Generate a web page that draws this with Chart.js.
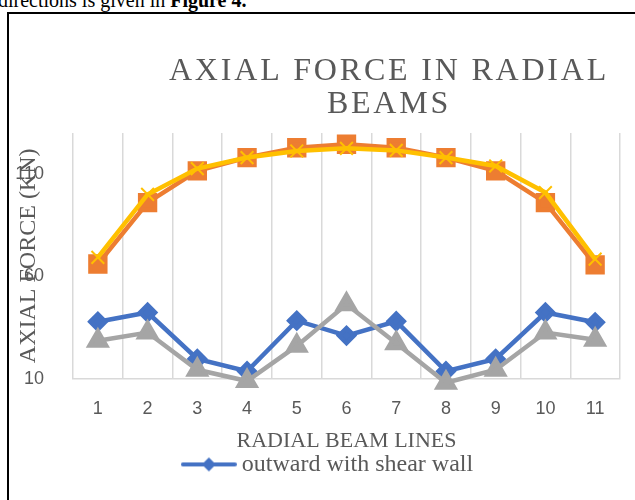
<!DOCTYPE html>
<html>
<head>
<meta charset="utf-8">
<script src="https://cdn.jsdelivr.net/npm/chart.js@4.4.1/dist/chart.umd.min.js"></script>
<style>
html,body{margin:0;padding:0;background:#fff;overflow:hidden}
#page{position:relative;width:635px;height:500px;overflow:hidden;background:#fff}
#lead{position:absolute;left:-2px;top:-10px;font:20px "Liberation Serif",serif;line-height:20px;color:#000;white-space:nowrap}
#frame{position:absolute;left:7px;top:12px;width:700px;height:600px;border:2px solid #000}
#chart{position:absolute;left:0;top:0}
</style>
</head>
<body>
<div id="page">
  <div id="lead">directions is given in <b>Figure 4.</b></div>
  <div id="frame"></div>
  <canvas id="chart" width="635" height="500"></canvas>
</div>
<script>
// radial beam lines and axial forces (kN)
const beamLines = ["1","2","3","4","5","6","7","8","9","10","11"];
const outwardWall   = [37.8, 42.3, 19.6, 13.6, 38.3, 31.0, 38.0, 13.6, 19.6, 42.3, 37.5];
const inwardWall    = [66.0, 96.0, 111.5, 118.0, 122.8, 124.5, 122.8, 118.0, 111.5, 96.0, 65.6];
const outwardNoWall = [28.5, 32.5, 14.3, 8.8, 26.0, 46.3, 27.3, 8.0, 14.3, 32.5, 29.0];
const inwardNoWall  = [69.2, 100.0, 112.6, 118.0, 121.2, 122.5, 121.5, 118.0, 113.9, 100.9, 68.4];
const yTicks = [10, 60, 110];
const titleLines = ["AXIAL FORCE IN RADIAL", "BEAMS"];
const yTitle = "AXIAL FORCE (KN)";
const xTitle = "RADIAL BEAM LINES";

const $ = id => document.getElementById(id);
const grey = "#595959", serif = "'Liberation Serif', 'Times New Roman', serif";
const sans = "'Liberation Sans', Arial, sans-serif";

// legend icon: line with a diamond marker, like the Excel legend
const icon = document.createElement("canvas");
icon.width = 56; icon.height = 16;
(() => {
  const g = icon.getContext("2d");
  g.strokeStyle = "#4472C4"; g.lineWidth = 4; g.lineCap = "round";
  g.beginPath(); g.moveTo(2, 8); g.lineTo(54, 8); g.stroke();
  g.fillStyle = "#4472C4";
  g.beginPath(); g.moveTo(28, 1); g.lineTo(35, 8); g.lineTo(28, 15); g.lineTo(21, 8); g.closePath(); g.fill();
})();

const texts = {
  id: "texts",
  afterLayout(c) { c.legend.left += 19; c.legend.right += 19; },
  afterDraw(c) {
    const ctx = c.ctx, a = c.chartArea;
    ctx.save();
    ctx.fillStyle = grey;
    ctx.textAlign = "center"; ctx.textBaseline = "middle";
    ctx.font = "32px " + serif;
    ctx.letterSpacing = "2.8px";
    titleLines.forEach((t, i) => ctx.fillText(t, 389, 72 + i * 33));
    ctx.letterSpacing = "0px";
    ctx.translate(29, (a.top + a.bottom) / 2);
    ctx.rotate(-Math.PI / 2);
    ctx.font = "24px " + serif;
    ctx.fillText(yTitle, 0, 0);
    ctx.restore();
  }
};

const ds = (label, data, color, style, radius, extra) => Object.assign({
  label, data, borderColor: color, backgroundColor: color,
  pointBackgroundColor: color, pointBorderColor: color,
  pointStyle: style, pointRadius: radius, pointHoverRadius: radius,
  borderWidth: 4.5, tension: 0, clip: false
}, extra || {});

new Chart($("chart"), {
  type: "line",
  data: {
    labels: beamLines,
    datasets: [
      ds("outward with shear wall", outwardWall, "#4472C4", "rectRot", 7.5, {order: 4}),
      ds("inward with shear wall", inwardWall, "#ED7D31", "rect", 10.5, {order: 3}),
      ds("outward without shear wall", outwardNoWall, "#A5A5A5", "triangle", 9.5, {order: 2}),
      ds("inward without shear wall", inwardNoWall, "#FFC000", "crossRot", 9, {order: 1, pointBorderWidth: 2})
    ]
  },
  options: {
    responsive: false, animation: false,
    layout: {padding: {left: 0, right: 12, top: 133, bottom: 13.6}},
    plugins: {
      legend: {
        position: "bottom",
        labels: {
          filter: it => it.datasetIndex === 0,
          usePointStyle: true, pointStyle: icon, pointStyleWidth: 42, boxHeight: 16,
          color: grey, font: {family: serif, size: 24}, padding: 0
        }
      },
      tooltip: {enabled: false},
      title: {display: false}
    },
    scales: {
      x: {
        offset: true,
        grid: {offset: true, color: "#d9d9d9", lineWidth: 1.5, drawTicks: false},
        border: {color: "#d9d9d9", width: 1.5},
        ticks: {color: grey, font: {family: sans, size: 18}, padding: 20},
        title: {display: true, text: xTitle, color: grey, font: {family: serif, size: 22}, padding: {top: -12.2, bottom: -2}}
      },
      y: {
        min: 10, max: 130,
        afterBuildTicks: s => { s.ticks = yTicks.map(v => ({value: v})); },
        afterFit: s => { s.width = 73; },
        grid: {display: false},
        border: {display: false},
        ticks: {color: grey, font: {family: sans, size: 18}, padding: 21}
      }
    }
  },
  plugins: [texts]
});
</script>
</body>
</html>
